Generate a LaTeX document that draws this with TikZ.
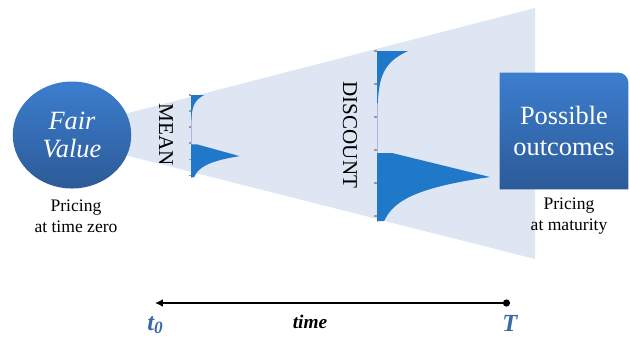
\documentclass[tikz,border=0pt]{standalone}
\usepackage{fontspec}
\setmainfont{Liberation Serif}
\usepackage{xcolor}
\usetikzlibrary{arrows.meta,backgrounds,shapes.geometric}

\definecolor{conebg}{RGB}{221,230,242}
\definecolor{dens}{RGB}{31,120,200}
\definecolor{tblue}{RGB}{59,106,168}
\definecolor{bluetop}{RGB}{60,126,206}
\definecolor{bluebot}{RGB}{44,90,152}

\begin{document}
\begin{tikzpicture}[
  x=0.2mm, y=-0.2mm,
  fv/.style={ellipse, minimum width=23.7mm, minimum height=21.4mm, inner sep=0pt,
    top color=bluetop, bottom color=bluebot, text=white, align=center,
    font=\fontsize{15}{16}\selectfont\itshape},
  outbox/.style={minimum width=25.6mm, minimum height=23.2mm, inner sep=0pt,
    text=white, align=center, font=\fontsize{15}{18}\selectfont},
  sub/.style={align=center, inner sep=0pt, font=\fontsize{10}{12}\selectfont},
  vlab/.style={rotate=-90, inner sep=0pt, font=\fontsize{12}{14}\selectfont},
  dist/.style={fill=dens},
  ax/.style={draw=black!35!blue!30, line width=0.4pt},
  tk/.style={draw=black!40, line width=0.6pt},
  tl/.style={{Latex[length=4.5pt,width=4.5pt]}-{Circle[length=4pt]}, line width=1.4pt},
  tm/.style={inner sep=0pt, text=tblue, font=\fontsize{14}{16}\selectfont\bfseries\itshape},
]
\useasboundingbox (0,0) rectangle (630,336);

\node[fv] (fair) at (72,135) {Fair\\Value};
\node[outbox] (outc) at (564,131) {Possible\\outcomes};
\node[sub] (pzero) at (76,216) {Pricing\\at time zero};
\node[sub] (pmat) at (569,216) {Pricing\\at maturity};

\begin{scope}[on background layer]
\fill[conebg] (105,119) -- (535,8) -- (535,259) -- (105,150) -- cycle;
\shade[top color=bluetop, bottom color=bluebot] (outc.south west) -- (outc.north west)
  -- ([xshift=-2mm]outc.north east) arc[start angle=90, end angle=0, radius=2mm]
  -- (outc.south east) -- cycle;
\end{scope}

\node[vlab] (mean) at (166,135) {MEAN};
\node[vlab] (disc) at (350,135) {DISCOUNT};

\begin{scope}[shift={(191,95)}, xscale=0.43, yscale=0.485]
  \draw[ax] (0,0) -- (0,171);
  \foreach \t in {0,33,66,99,132,165} \draw[tk] (-4,\t) -- (0,\t);
  \fill[dist] (0,0) -- plot[domain=0:52, samples=30] ({31*exp(-\x/14)},\x) -- (0,52) -- cycle;
  \fill[dist] (0,102) -- (15,102) -- (113,126)
    -- plot[domain=126:170, samples=30] ({113*exp(-(\x-126)/16)},\x) -- (0,170) -- cycle;
\end{scope}

\begin{scope}[shift={(377,51)}]
  \draw[ax] (0,0) -- (0,171);
  \foreach \t in {0,33,66,99,132,165} \draw[tk] (-3,\t) -- (0,\t);
  \fill[dist] (0,0) -- plot[domain=0:52, samples=30] ({31*exp(-\x/14)},\x) -- (0,52) -- cycle;
  \fill[dist] (0,102) -- (15,102) -- (113,126)
    -- plot[domain=126:170, samples=30] ({113*exp(-(\x-126)/16)},\x) -- (0,170) -- cycle;
\end{scope}

\coordinate (tzero) at (155,303);
\coordinate (tmat) at (510,303);
\draw[tl] (tzero) -- (tmat);
\node[tm, anchor=base west] (tzlab) at (147,330) {t\textsubscript{0}};
\node[tm, anchor=base] (tlab) at (510,331) {T};
\node[inner sep=0pt, anchor=base, font=\fontsize{11}{13}\selectfont\bfseries\itshape] (timelab) at (310,328) {time};
\end{tikzpicture}
\end{document}
